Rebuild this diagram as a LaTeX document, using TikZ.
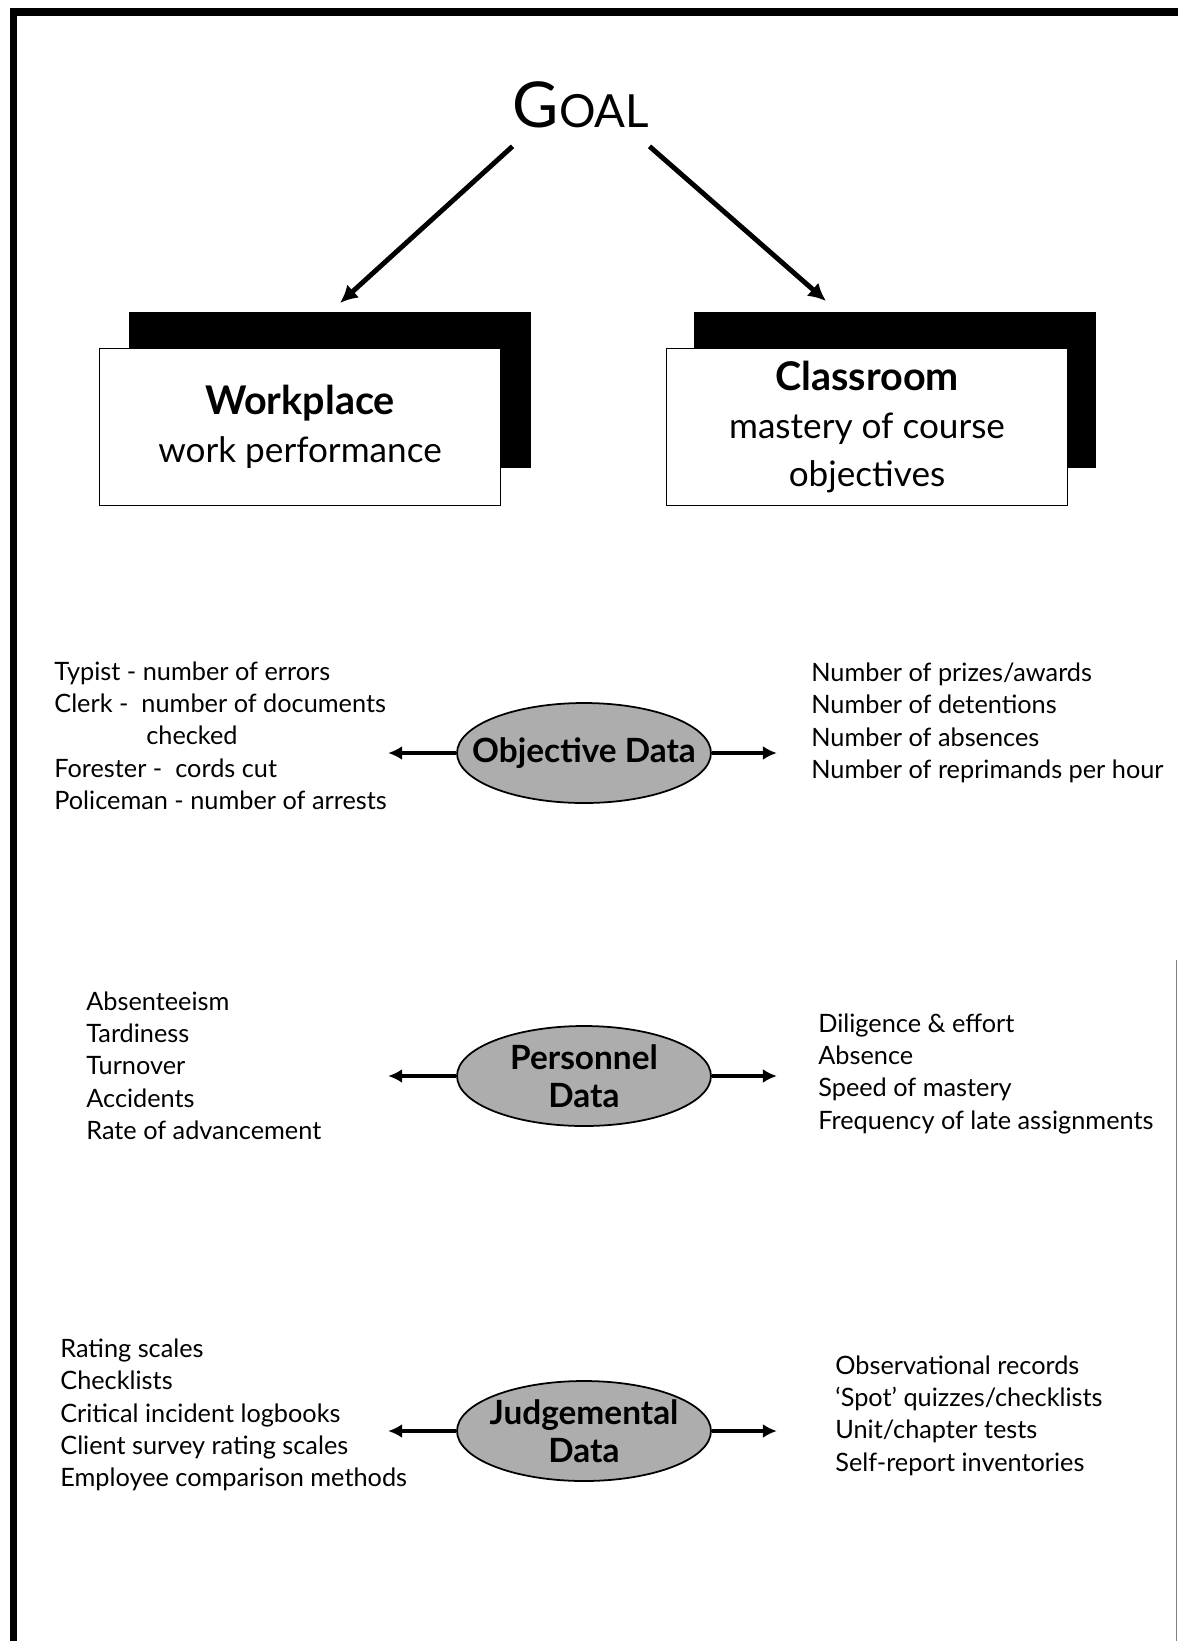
\documentclass[tikz,border=0pt]{standalone}
\usepackage{fontspec}
\setmainfont{Lato}
\usetikzlibrary{shapes.geometric, arrows.meta}
\tikzset{
	every node/.style={inner sep=0pt},
	goal-node/.style={minimum width=2.4cm,minimum height=1.64cm},
	box/.style={shape=rectangle,draw=black,line width=1pt,fill=white,minimum width=8.02cm,minimum height=3.14cm,align=center,font=\fontsize{20}{27.5}\selectfont},
	shadow-box/.style={shape=rectangle,fill=black,minimum width=8.04cm,minimum height=3.14cm},
	data-node/.style={shape=ellipse,draw=black,line width=1pt,fill=black!32,minimum width=5.08cm,minimum height=2cm},
	data-label/.style={align=center,font=\bfseries\fontsize{19}{21.4}\selectfont},
	list/.style={anchor=west,align=left,font=\fontsize{14.4}{18.4}\selectfont},
}
\tikzstyle{arrow} = [line width=2.8pt,-{Latex[length=10pt,width=10pt]}]
\tikzstyle{side-arrow} = [line width=2.3pt,-{Latex[length=8pt,width=8pt]}]
\newcommand{\boxtitle}[1]{{\bfseries\fontsize{22.5}{27.5}\selectfont #1}}

\begin{document}
\begin{tikzpicture}[x=0.02cm,y=-0.02cm]
	\useasboundingbox (0,0) rectangle (1178,1641);
	\draw[line width=0.16cm] (13.5,1641) -- (13.5,12) -- (1178,12);
	\draw[black!50,line width=0.5pt] (1176,960) -- (1176,1641);

	\node[goal-node] (goal) at (581,105) {\fontsize{36}{40}\selectfont G\fontsize{26}{30}\selectfont OAL};

	\node[shadow-box] (work-shadow) at (330,390) {};
	\node[box] (work) at (300,427) {\boxtitle{Workplace}\\work performance};
	\node[shadow-box] (class-shadow) at (895,390) {};
	\node[box] (class) at (867,427) {\boxtitle{Classroom}\\mastery of course\\objectives};

	\coordinate (work-tip) at (340,303);
	\coordinate (class-tip) at (826,301);
	\draw[arrow] (goal.south west) -- (work-tip);
	\draw[arrow] (goal.south east) -- (class-tip);

	\node[data-node] (obj) at (584,753) {};
	\node[data-label] (obj-text) at (obj) {Objective Data};
	\node[data-node] (pers) at (584,1076) {};
	\node[data-label] (pers-text) at (pers) {Personnel\\Data};
	\node[data-node] (judg) at (584,1431) {};
	\node[data-label] (judg-text) at (judg) {Judgemental\\Data};

	\draw[side-arrow] (obj.west) -- ++(-68,0);
	\draw[side-arrow] (obj.east) -- ++(65,0);
	\draw[side-arrow] (pers.west) -- ++(-68,0);
	\draw[side-arrow] (pers.east) -- ++(65,0);
	\draw[side-arrow] (judg.west) -- ++(-68,0);
	\draw[side-arrow] (judg.east) -- ++(65,0);

	\node[list] (obj-left) at (54,735.5) {Typist - number of errors\\Clerk -\ \ number of documents\\\hspace*{1.84cm}checked\\Forester -\ \ cords cut\\Policeman - number of arrests};
	\node[list] (obj-right) at (811,723) {Number of prizes/awards\\Number of detentions\\Number of absences\\Number of reprimands per hour};

	\node[list] (pers-left) at (86,1065.5) {Absenteeism\\Tardiness\\Turnover\\Accidents\\Rate of advancement};
	\node[list] (pers-right) at (818,1073.5) {Diligence \& effort\\Absence\\Speed of mastery\\Frequency of late assignments};

	\node[list] (judg-left) at (60,1415) {Rating scales\\Checklists\\Critical incident logbooks\\Client survey rating scales\\Employee comparison methods};
	\node[list] (judg-right) at (835,1415.5) {Observational records\\`Spot' quizzes/checklists\\Unit/chapter tests\\Self-report inventories};
\end{tikzpicture}
\end{document}
